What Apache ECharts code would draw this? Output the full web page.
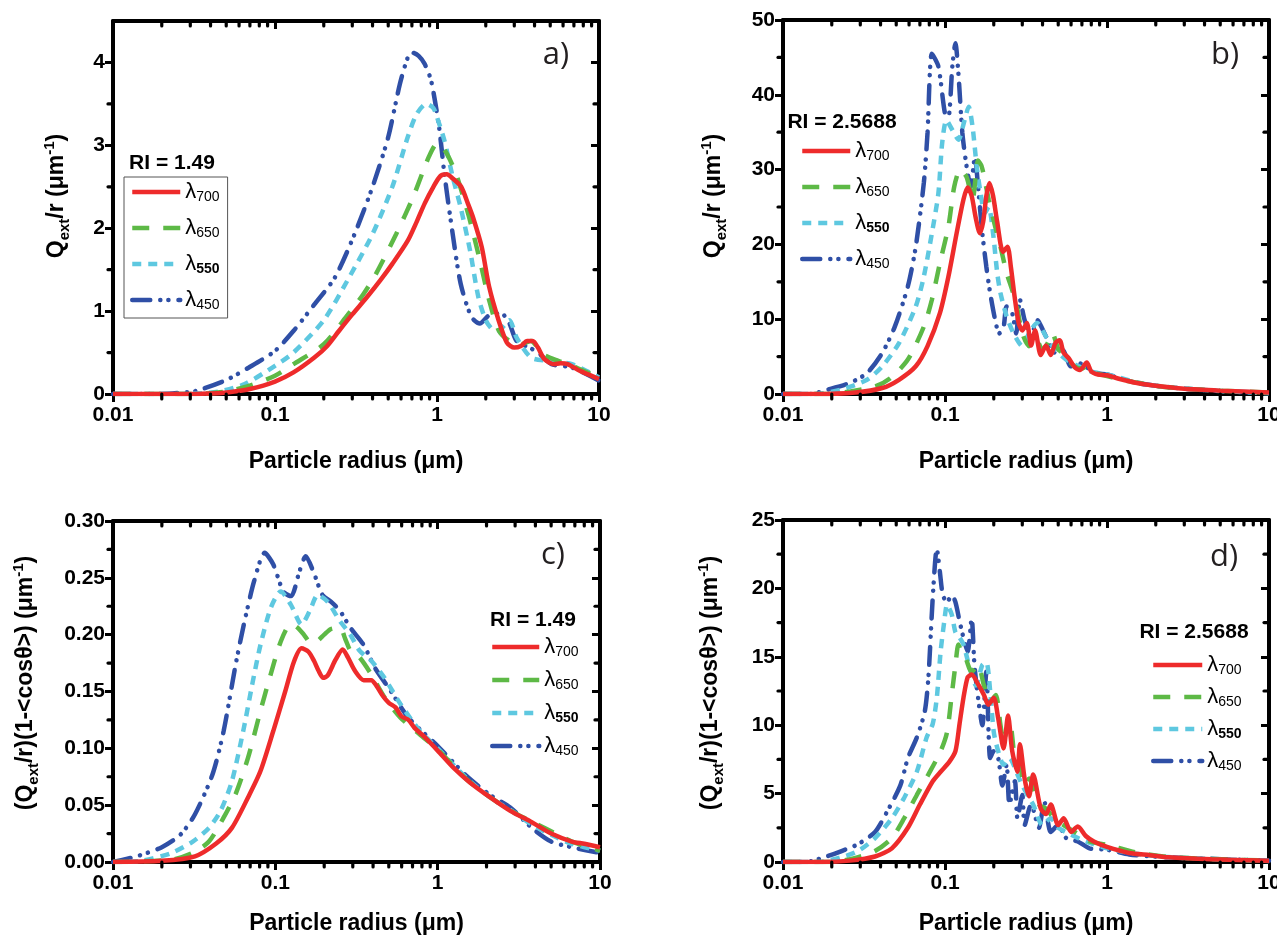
<!DOCTYPE html>
<html>
<head>
<meta charset="utf-8">
<script src="https://cdn.jsdelivr.net/npm/echarts@6.0.0/dist/echarts.min.js"></script>
<style>
html,body{margin:0;padding:0;background:#fff;}
#c{width:1277px;height:935px;}
</style>
</head>
<body>
<div id="c"></div>
<script>
// ---------- axis ticks ----------
const xTicks = [0.01, 0.1, 1, 10];
const xTickLabels = ['0.01', '0.1', '1', '10'];
const xMinorTicks = [0.02,0.03,0.04,0.05,0.06,0.07,0.08,0.09,0.2,0.3,0.4,0.5,0.6,0.7,0.8,0.9,2,3,4,5,6,7,8,9];
const seriesNames = ['λ700', 'λ650', 'λ550', 'λ450'];

const aYMax = 4.5;
const aYTicks = [0, 1, 2, 3, 4];
const aYLabels = ['0', '1', '2', '3', '4'];
const aYMinor = [0.5, 1.5, 2.5, 3.5];

const bYMax = 50;
const bYTicks = [0, 10, 20, 30, 40, 50];
const bYLabels = ['0', '10', '20', '30', '40', '50'];
const bYMinor = [5, 15, 25, 35, 45];

const cYMax = 0.30;
const cYTicks = [0, 0.05, 0.10, 0.15, 0.20, 0.25, 0.30];
const cYLabels = ['0.00', '0.05', '0.10', '0.15', '0.20', '0.25', '0.30'];
const cYMinor = [0.025, 0.075, 0.125, 0.175, 0.225, 0.275];

const dYMax = 25;
const dYTicks = [0, 5, 10, 15, 20, 25];
const dYLabels = ['0', '5', '10', '15', '20', '25'];
const dYMinor = [2.5, 7.5, 12.5, 17.5, 22.5];

// ---------- panel a: RI = 1.49, Qext/r ----------
const aR700 = [[0.01,0],[0.03,0],[0.045,0.01],[0.052,0.02],[0.07,0.06],[0.1,0.15],[0.13,0.26],[0.175,0.44],[0.21,0.58],[0.248,0.76],[0.3,0.96],[0.37,1.17],[0.45,1.38],[0.53,1.57],[0.66,1.85],[0.75,2.08],[0.84,2.3],[0.95,2.5],[1.05,2.63],[1.15,2.65],[1.25,2.6],[1.41,2.5],[1.55,2.3],[1.67,2.13],[1.89,1.77],[2.1,1.29],[2.4,0.89],[2.7,0.62],[3.0,0.56],[3.3,0.58],[3.6,0.64],[3.9,0.64],[4.2,0.56],[4.6,0.42],[5.3,0.36],[5.8,0.37],[6.4,0.36],[7.6,0.28],[8.5,0.24],[10,0.18]];
const aG650 = [[0.01,0],[0.03,0],[0.04,0.01],[0.05,0.03],[0.07,0.1],[0.1,0.22],[0.13,0.36],[0.2,0.6],[0.28,0.95],[0.35,1.2],[0.42,1.45],[0.56,1.93],[0.71,2.37],[0.89,2.86],[1.0,3.02],[1.08,2.98],[1.18,2.86],[1.33,2.62],[1.58,2.13],[1.84,1.61],[2.1,1.13],[2.4,0.77],[2.8,0.64],[3.3,0.6],[3.8,0.64],[4.5,0.48],[5.6,0.4],[6.5,0.36],[7.6,0.3],[10,0.2]];
const aC550 = [[0.01,0],[0.025,0],[0.035,0.01],[0.045,0.03],[0.065,0.12],[0.1,0.34],[0.13,0.5],[0.2,0.89],[0.28,1.37],[0.4,1.93],[0.53,2.5],[0.66,3.1],[0.75,3.38],[0.86,3.5],[0.95,3.45],[1.0,3.34],[1.11,3.06],[1.25,2.62],[1.4,2.25],[1.6,1.73],[1.8,1.17],[2.0,0.89],[2.2,0.78],[2.4,0.77],[2.8,0.89],[3.1,0.68],[3.8,0.44],[4.8,0.4],[6.8,0.36],[10,0.2]];
const aB450 = [[0.01,0],[0.02,0],[0.028,0.02],[0.033,0.04],[0.049,0.16],[0.069,0.32],[0.1,0.52],[0.13,0.76],[0.175,1.08],[0.235,1.41],[0.31,1.93],[0.4,2.5],[0.5,3.1],[0.59,3.74],[0.66,4.06],[0.7,4.12],[0.77,4.08],[0.84,3.98],[0.92,3.78],[1.03,3.22],[1.11,2.66],[1.25,1.93],[1.4,1.33],[1.63,0.93],[1.84,0.85],[2.1,0.95],[2.5,0.97],[2.8,0.85],[3.1,0.64],[3.8,0.55],[4.2,0.5],[5.1,0.36],[6.8,0.32],[10,0.16]];

// ---------- panel b: RI = 2.5688, Qext/r ----------
const bR700 = [[0.01,0],[0.016,0],[0.028,0.2],[0.041,0.8],[0.052,1.9],[0.066,3.7],[0.078,6.4],[0.093,10.8],[0.105,15.7],[0.118,21.5],[0.13,26],[0.138,27.6],[0.146,26.5],[0.155,23.5],[0.164,21.5],[0.172,23],[0.18,26.5],[0.188,28.2],[0.198,26.5],[0.21,23],[0.228,19],[0.243,19.7],[0.255,17],[0.269,13],[0.285,9.5],[0.3,8.5],[0.32,9.5],[0.34,6.5],[0.36,8.5],[0.39,5.2],[0.42,6.5],[0.45,5.2],[0.48,6.8],[0.51,7.2],[0.54,5.5],[0.58,4.8],[0.63,3.6],[0.68,3.2],[0.75,4.2],[0.8,3],[0.88,2.6],[1.0,2.5],[1.2,2],[1.5,1.5],[2,1.1],[3,0.7],[5,0.45],[10,0.2]];
const bG650 = [[0.01,0],[0.019,0],[0.026,0.35],[0.037,1],[0.046,2.1],[0.059,4.6],[0.074,9],[0.083,12.6],[0.093,17.5],[0.105,22.4],[0.114,27.7],[0.124,30],[0.136,29],[0.148,26],[0.16,31.2],[0.168,30.5],[0.176,28.6],[0.186,26],[0.204,22.4],[0.22,19.7],[0.24,16.2],[0.26,13.9],[0.28,11.3],[0.3,8.1],[0.33,6.4],[0.36,7.7],[0.4,5.9],[0.43,6.8],[0.46,8.1],[0.5,6],[0.53,5.5],[0.58,4.5],[0.63,3.7],[0.7,3.4],[0.75,3.7],[0.85,2.8],[1.0,2.4],[1.3,1.8],[2,1.1],[3,0.7],[5,0.45],[10,0.2]];
const bC550 = [[0.01,0],[0.016,0],[0.023,0.6],[0.033,1.9],[0.041,3.7],[0.052,6.8],[0.066,11.7],[0.074,15.7],[0.083,21.5],[0.091,26.8],[0.096,33.5],[0.102,36.6],[0.111,35.3],[0.121,34],[0.132,36.6],[0.14,38.4],[0.148,35.7],[0.157,30.4],[0.166,26.8],[0.176,24.2],[0.186,25],[0.198,21.5],[0.21,16.2],[0.22,13.5],[0.24,10.4],[0.265,8.1],[0.3,6.4],[0.33,8.1],[0.37,9.5],[0.42,7.7],[0.48,5.9],[0.56,4.6],[0.67,3.7],[0.8,3],[1.0,2.6],[1.8,1.25],[4.3,0.5],[10,0.1]];
const bB450 = [[0.01,0],[0.0146,0],[0.019,0.6],[0.026,1.5],[0.033,2.8],[0.041,5.5],[0.049,9],[0.059,14.4],[0.066,19.7],[0.074,28.2],[0.078,34.9],[0.083,45.5],[0.091,43.8],[0.1,37.5],[0.105,37.1],[0.111,43.8],[0.116,46.9],[0.121,42.8],[0.128,34.9],[0.136,30.4],[0.144,27.7],[0.153,31.7],[0.16,27.7],[0.17,21.5],[0.18,17],[0.19,13.5],[0.204,9.9],[0.216,8.1],[0.23,9],[0.24,11.7],[0.26,10.8],[0.275,8.1],[0.29,12.6],[0.31,9.9],[0.34,7.7],[0.37,9.9],[0.42,7.7],[0.48,5.5],[0.53,5.9],[0.6,3.7],[0.67,4.1],[0.85,2.8],[1.0,2.6],[1.5,1.5],[2,1.1],[3,0.7],[5,0.4],[10,0.15]];

// ---------- panel c: RI = 1.49, (Qext/r)(1-<cos>) ----------
const cR700 = [[0.01,0],[0.02,0.001],[0.032,0.005],[0.043,0.016],[0.054,0.03],[0.068,0.057],[0.081,0.08],[0.097,0.115],[0.115,0.15],[0.13,0.176],[0.145,0.188],[0.16,0.185],[0.173,0.177],[0.185,0.168],[0.197,0.162],[0.21,0.164],[0.235,0.178],[0.26,0.187],[0.28,0.18],[0.31,0.168],[0.35,0.16],[0.39,0.16],[0.42,0.155],[0.46,0.146],[0.5,0.14],[0.55,0.136],[0.6,0.128],[0.66,0.125],[0.72,0.118],[0.83,0.11],[1.0,0.098],[1.25,0.083],[1.58,0.07],[2.1,0.057],[2.8,0.045],[3.8,0.035],[5.0,0.025],[6.7,0.018],[8,0.016],[10,0.013]];
const cG650 = [[0.01,0],[0.023,0.002],[0.031,0.008],[0.039,0.018],[0.048,0.039],[0.057,0.06],[0.068,0.092],[0.081,0.133],[0.091,0.159],[0.108,0.194],[0.124,0.209],[0.135,0.207],[0.15,0.2],[0.165,0.193],[0.18,0.194],[0.2,0.2],[0.22,0.205],[0.25,0.206],[0.27,0.196],[0.29,0.186],[0.33,0.18],[0.39,0.165],[0.47,0.145],[0.59,0.127],[0.78,0.112],[1.0,0.099],[1.5,0.073],[2.1,0.057],[3.0,0.043],[4.0,0.034],[5.5,0.024],[7,0.017],[10,0.01]];
const cC550 = [[0.01,0],[0.015,0.001],[0.023,0.008],[0.031,0.018],[0.039,0.03],[0.046,0.045],[0.054,0.071],[0.064,0.118],[0.072,0.156],[0.081,0.191],[0.094,0.224],[0.108,0.238],[0.125,0.226],[0.145,0.209],[0.163,0.221],[0.183,0.235],[0.21,0.229],[0.25,0.212],[0.29,0.2],[0.33,0.186],[0.39,0.177],[0.47,0.162],[0.59,0.139],[0.78,0.115],[1.0,0.1],[1.5,0.074],[2.1,0.057],[3.0,0.043],[3.8,0.033],[5.0,0.024],[6.7,0.016],[10,0.01]];
const cB450 = [[0.01,0],[0.014,0.005],[0.02,0.013],[0.026,0.024],[0.032,0.042],[0.041,0.077],[0.048,0.115],[0.057,0.174],[0.064,0.209],[0.074,0.247],[0.086,0.272],[0.097,0.262],[0.112,0.238],[0.125,0.234],[0.141,0.256],[0.154,0.269],[0.173,0.254],[0.195,0.235],[0.22,0.229],[0.25,0.221],[0.29,0.206],[0.35,0.191],[0.41,0.171],[0.5,0.153],[0.66,0.127],[1.0,0.102],[1.5,0.076],[2.1,0.059],[2.8,0.048],[3.8,0.03],[5.0,0.018],[6.7,0.013],[10,0.008]];

// ---------- panel d: RI = 2.5688, (Qext/r)(1-<cos>) ----------
const dR700 = [[0.01,0],[0.0174,0],[0.026,0.1],[0.037,0.4],[0.047,1],[0.059,2.5],[0.07,4.2],[0.084,5.9],[0.094,6.6],[0.106,7.3],[0.116,8.1],[0.123,10.1],[0.13,12],[0.138,13.5],[0.146,13.7],[0.16,13],[0.174,12.2],[0.185,11.5],[0.2,12],[0.213,10.5],[0.23,8.3],[0.245,10.7],[0.26,8.1],[0.28,6.6],[0.29,8.6],[0.31,6.1],[0.33,4.8],[0.35,6.4],[0.39,3.9],[0.42,3.5],[0.45,4.2],[0.5,2.7],[0.54,3.2],[0.6,2.2],[0.66,2.6],[0.74,1.9],[0.83,1.5],[1.0,1.1],[1.37,0.66],[1.84,0.5],[2.4,0.34],[4.4,0.2],[10,0.1]];
const dG650 = [[0.01,0],[0.0195,0],[0.028,0.3],[0.037,0.8],[0.047,1.75],[0.056,3.2],[0.067,4.9],[0.079,6.4],[0.094,8.1],[0.103,9.5],[0.11,12.2],[0.116,14.4],[0.121,15.9],[0.126,15.4],[0.134,14.9],[0.146,13.9],[0.16,14.4],[0.174,12.9],[0.19,11.7],[0.206,12.2],[0.22,10],[0.23,8.8],[0.25,10.5],[0.27,7.6],[0.29,7.1],[0.31,5.6],[0.33,6.1],[0.38,4.2],[0.42,3.9],[0.47,3.2],[0.54,2.7],[0.63,2.2],[0.78,1.5],[1.0,1.26],[1.5,0.7],[2.5,0.35],[5,0.2],[10,0.1]];
const dC550 = [[0.01,0],[0.0164,0],[0.023,0.35],[0.029,0.8],[0.037,1.75],[0.047,3.2],[0.056,4.7],[0.067,6.6],[0.077,9.1],[0.084,10.1],[0.089,12],[0.094,15.4],[0.099,17.6],[0.103,18.8],[0.11,18.1],[0.116,16.8],[0.123,16.4],[0.13,15.9],[0.142,14.2],[0.155,12.9],[0.17,14.4],[0.18,14.6],[0.19,12.5],[0.2,9.5],[0.213,8.1],[0.23,7.1],[0.25,7.6],[0.28,6.4],[0.3,5.6],[0.33,4.7],[0.35,4.2],[0.4,2.7],[0.45,3.2],[0.5,2.5],[0.6,2],[0.74,1.5],[1.0,1.0],[1.5,0.6],[2.5,0.35],[5,0.2],[10,0.08]];
const dB450 = [[0.01,0],[0.0138,0],[0.0185,0.4],[0.023,0.8],[0.029,1.3],[0.037,2.2],[0.044,3.7],[0.053,5.6],[0.059,7.6],[0.067,9.1],[0.075,11],[0.079,13.5],[0.084,19.3],[0.089,22.9],[0.093,21.2],[0.097,19.5],[0.103,19],[0.11,19.5],[0.116,19],[0.123,17.6],[0.13,16.4],[0.138,15.4],[0.146,17.8],[0.152,14.4],[0.16,12],[0.17,10],[0.18,13.9],[0.19,7.6],[0.2,8.1],[0.213,7.6],[0.226,5.6],[0.24,7.1],[0.25,4.2],[0.27,5.9],[0.28,3.2],[0.3,4.9],[0.31,2.7],[0.34,4.2],[0.38,2.5],[0.41,4.4],[0.45,2.2],[0.5,2.7],[0.56,1.75],[0.66,1.5],[0.78,1.0],[1.0,0.9],[1.37,0.55],[2.4,0.34],[10,0.1]];

// ---------- styling ----------
const FONT = '"Liberation Sans", Arial, Helvetica, sans-serif';
const colors = ['#ee2b2b', '#5db946', '#5ec8e0', '#2f4fa6'];
const dashes = ['solid', [17, 14], [9, 7], [18, 10, 0.1, 8, 0.1, 10]];
const caps = ['butt', 'butt', 'butt', 'round'];

const qTitle = '{m|Q}{s|ext}{m|/r (μm}{p|-1}{m|)}';
const qcTitle = '{m|(Q}{s|ext}{m|/r)(1-<cosθ>) (μm}{p|-1}{m|)}';

const panels = [
  { grid: {left: 113, top: 21, width: 486, height: 373}, yMax: aYMax, yTicks: aYTicks, yLabels: aYLabels, yMinor: aYMinor,
    data: [aR700, aG650, aC550, aB450], xNameGap: 56,
    legend: {left: 124, top: 177, itemGap: 13, itemWidth: 48, border: true},
    ri: {text: 'RI = 1.49', x: 172, y: 163}, tag: {text: 'a)', x: 556, y: 55}, yTitle: {text: qTitle, x: 57, y: 196} },
  { grid: {left: 783, top: 20, width: 486, height: 374}, yMax: bYMax, yTicks: bYTicks, yLabels: bYLabels, yMinor: bYMinor,
    data: [bR700, bG650, bC550, bB450], xNameGap: 56,
    legend: {left: 800, top: 140, itemGap: 13, itemWidth: 48, border: false},
    ri: {text: 'RI = 2.5688', x: 842, y: 122}, tag: {text: 'b)', x: 1225, y: 55}, yTitle: {text: qTitle, x: 714, y: 196} },
  { grid: {left: 113, top: 521, width: 487, height: 341}, yMax: cYMax, yTicks: cYTicks, yLabels: cYLabels, yMinor: cYMinor,
    data: [cR700, cG650, cC550, cB450], xNameGap: 50,
    legend: {left: 490, top: 636, itemGap: 10, itemWidth: 47, border: false},
    ri: {text: 'RI = 1.49', x: 533, y: 620}, tag: {text: 'c)', x: 553, y: 555}, yTitle: {text: qcTitle, x: 26, y: 683} },
  { grid: {left: 783, top: 520, width: 486, height: 342}, yMax: dYMax, yTicks: dYTicks, yLabels: dYLabels, yMinor: dYMinor,
    data: [dR700, dG650, dC550, dB450], xNameGap: 50,
    legend: {left: 1151, top: 654, itemGap: 9, itemWidth: 49, border: false},
    ri: {text: 'RI = 2.5688', x: 1194, y: 632}, tag: {text: 'd)', x: 1224, y: 557}, yTitle: {text: qcTitle, x: 711, y: 683} }
];

function xLabel(v) {
  for (let i = 0; i < xTicks.length; i++) {
    if (Math.abs(xTicks[i] - v) / xTicks[i] < 1e-6) return xTickLabels[i];
  }
  return '';
}

function xMinorRender(yMax) {
  return function (params, api) {
    const x = api.value(0);
    const b = api.coord([x, 0]);
    const t = api.coord([x, yMax]);
    const st = {stroke: '#000', lineWidth: 3.2, lineCap: 'round'};
    return {type: 'group', children: [
      {type: 'line', shape: {x1: b[0], y1: b[1], x2: b[0], y2: b[1] + 5}, style: st},
      {type: 'line', shape: {x1: t[0], y1: t[1], x2: t[0], y2: t[1] + 5}, style: st}
    ]};
  };
}
function yMinorRender() {
  return function (params, api) {
    const y = api.value(1);
    const l = api.coord([0.01, y]);
    const r = api.coord([10, y]);
    const st = {stroke: '#000', lineWidth: 3.2, lineCap: 'round'};
    return {type: 'group', children: [
      {type: 'line', shape: {x1: l[0] - 5, y1: l[1], x2: l[0], y2: l[1]}, style: st},
      {type: 'line', shape: {x1: r[0] - 5, y1: r[1], x2: r[0], y2: r[1]}, style: st}
    ]};
  };
}

const legendRich = {
  l: {fontFamily: FONT, fontSize: 22, lineHeight: 24, color: '#000'},
  s: {fontFamily: FONT, fontSize: 14, lineHeight: 12, verticalAlign: 'bottom', color: '#000'},
  sb: {fontFamily: FONT, fontSize: 14, fontWeight: 'bold', lineHeight: 12, verticalAlign: 'bottom', color: '#000'}
};
const titleRich = {
  m: {fontFamily: FONT, fontSize: 23, fontWeight: 'bold', lineHeight: 30, fill: '#000', color: '#000'},
  s: {fontFamily: FONT, fontSize: 15, fontWeight: 'bold', lineHeight: 13, verticalAlign: 'bottom', fill: '#000', color: '#000'},
  p: {fontFamily: FONT, fontSize: 15, fontWeight: 'bold', lineHeight: 13, verticalAlign: 'top', fill: '#000', color: '#000'}
};

const option = {
  animation: false,
  backgroundColor: '#fff',
  grid: [], xAxis: [], yAxis: [], series: [], legend: [], graphic: []
};

panels.forEach(function (p, i) {
  option.grid.push(Object.assign({containLabel: false, outerBoundsMode: 'none'}, p.grid));
  const axisLine = {show: true, onZero: false, lineStyle: {color: '#000', width: 4}};
  const labelStyle = {fontFamily: FONT, fontSize: 21, fontWeight: 'bold', color: '#000'};
  option.xAxis.push({
    type: 'log', logBase: 10, gridIndex: i, position: 'bottom', min: 0.01, max: 10,
    axisLine: axisLine, splitLine: {show: false},
    axisTick: {show: true, inside: false, length: 8, lineStyle: {color: '#000', width: 3}},
    axisLabel: Object.assign({show: true, margin: 11, formatter: xLabel}, labelStyle),
    name: 'Particle radius (μm)', nameLocation: 'middle', nameGap: p.xNameGap,
    nameTextStyle: {fontFamily: FONT, fontSize: 23, fontWeight: 'bold', color: '#000'}
  });
  option.xAxis.push({
    type: 'log', logBase: 10, gridIndex: i, position: 'top', min: 0.01, max: 10,
    axisLine: axisLine, splitLine: {show: false},
    axisTick: {show: true, inside: true, length: 8, lineStyle: {color: '#000', width: 3}},
    axisLabel: {show: false}
  });
  const yFmt = function (v) {
    for (let k = 0; k < p.yTicks.length; k++) {
      if (Math.abs(p.yTicks[k] - v) < 1e-9) return p.yLabels[k];
    }
    return '';
  };
  option.yAxis.push({
    type: 'value', gridIndex: i, position: 'left', min: 0, max: p.yMax, interval: p.yTicks[1] - p.yTicks[0],
    axisLine: axisLine, splitLine: {show: false},
    axisTick: {show: true, inside: false, length: 8, customValues: p.yTicks, lineStyle: {color: '#000', width: 3}},
    axisLabel: Object.assign({show: true, margin: 8, customValues: p.yTicks, formatter: yFmt}, labelStyle)
  });
  option.yAxis.push({
    type: 'value', gridIndex: i, position: 'right', min: 0, max: p.yMax, interval: p.yTicks[1] - p.yTicks[0],
    axisLine: axisLine, splitLine: {show: false},
    axisTick: {show: true, inside: true, length: 8, customValues: p.yTicks, lineStyle: {color: '#000', width: 3}},
    axisLabel: {show: false}
  });
  p.data.forEach(function (d, k) {
    option.series.push({
      type: 'line', name: seriesNames[k], xAxisIndex: 2 * i, yAxisIndex: 2 * i,
      data: d, symbol: 'none', showSymbol: false, smooth: 0.25, z: 3 + (3 - k) * 0.01,
      lineStyle: {color: colors[k], width: 4.5, type: dashes[k], cap: caps[k]},
      itemStyle: {color: colors[k]}
    });
  });
  option.series.push({
    type: 'custom', name: 'xminor' + i, xAxisIndex: 2 * i, yAxisIndex: 2 * i, silent: true, clip: false, z: 6,
    renderItem: xMinorRender(p.yMax), encode: {x: 0, y: 1},
    data: xMinorTicks.map(function (v) { return [v, 0]; })
  });
  option.series.push({
    type: 'custom', name: 'yminor' + i, xAxisIndex: 2 * i, yAxisIndex: 2 * i, silent: true, clip: false, z: 6,
    renderItem: yMinorRender(), encode: {x: 0, y: 1},
    data: p.yMinor.map(function (v) { return [0.01, v]; })
  });
  option.legend.push({
    data: seriesNames, orient: 'vertical', left: p.legend.left, top: p.legend.top,
    itemWidth: p.legend.itemWidth, itemHeight: 14, itemGap: p.legend.itemGap,
    padding: p.legend.border ? [4, 8, 6, 6] : 0,
    borderColor: p.legend.border ? '#555' : 'transparent', borderWidth: p.legend.border ? 1 : 0,
    selectedMode: false,
    lineStyle: {width: 4.5},
    itemStyle: {opacity: 0, borderWidth: 0},
    formatter: function (name) {
      return '{l|λ}{' + (name === 'λ550' ? 'sb' : 's') + '|' + name.slice(1) + '}';
    },
    textStyle: {rich: legendRich}
  });
  option.graphic.push({
    type: 'text', x: p.ri.x, y: p.ri.y, silent: true,
    style: {text: p.ri.text, font: 'bold 21px ' + FONT, fill: '#000',
      align: 'center', verticalAlign: 'middle', textAlign: 'center', textVerticalAlign: 'middle'}
  });
  option.graphic.push({
    type: 'text', x: p.tag.x, y: p.tag.y, silent: true,
    style: {text: p.tag.text, font: '31px "Open Sans", "DejaVu Sans", sans-serif', fill: '#231f20',
      align: 'center', verticalAlign: 'middle', textAlign: 'center', textVerticalAlign: 'middle'}
  });
  option.graphic.push({
    type: 'text', x: p.yTitle.x, y: p.yTitle.y, rotation: Math.PI / 2, silent: true,
    style: {text: p.yTitle.text, rich: titleRich, fill: '#000',
      align: 'center', verticalAlign: 'middle', textAlign: 'center', textVerticalAlign: 'middle'}
  });
});

const chart = echarts.init(document.getElementById('c'), null, {renderer: 'canvas'});
chart.setOption(option);
</script>
</body>
</html>
